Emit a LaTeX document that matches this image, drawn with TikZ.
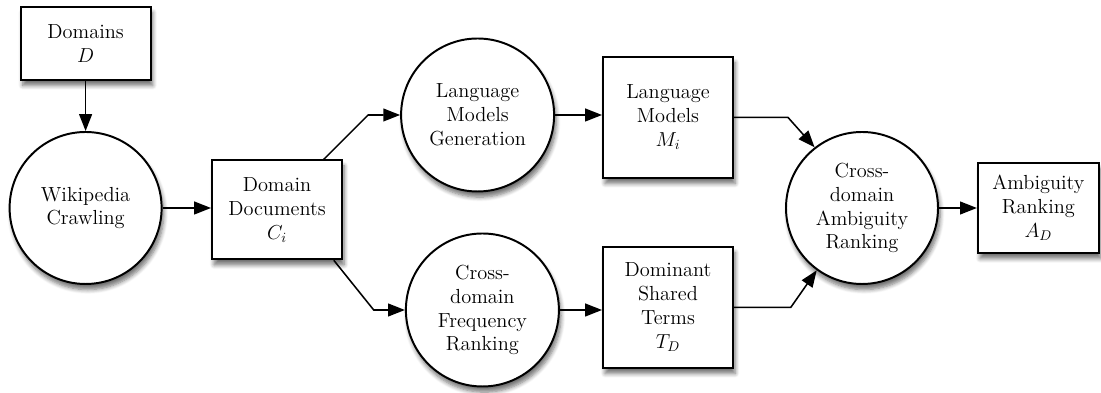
\documentclass[tikz,border=0pt]{standalone}
\usepackage{fontspec}
\usepackage{tikz}
\usetikzlibrary{arrows.meta, positioning, calc, shadows.blur}
\tikzset{
  soft/.style={blur shadow={shadow xshift=1.5pt, shadow yshift=-4pt, shadow blur steps=6, shadow blur radius=3pt, shadow opacity=55}},
  proc/.style={circle, draw=black, fill=white, line width=1.4pt, align=center,
               minimum size=3.8cm, inner sep=0pt, font=\fontsize{14.5}{17}\selectfont, soft},
  data/.style={rectangle, draw=black, fill=white, line width=1.4pt, align=center,
               minimum width=3.25cm, inner sep=2pt, font=\fontsize{14.5}{17}\selectfont, soft},
  arr/.style={-{Triangle[length=0.42cm,width=0.32cm]}, line width=1.1pt},
}

\begin{document}
\begin{tikzpicture}[x=1cm, y=1cm]
\useasboundingbox (0,0) rectangle (27.525,9.825);
% inputs and crawling
\node[data, minimum height=1.825cm] (dom) at (2.14,8.74) {Domains\\$D$};
\node[proc] (wiki) at (2.14,4.625) {Wikipedia\\Crawling};
\node[data, minimum height=2.475cm] (docs) at (6.925,4.58) {Domain\\Documents\\$C_i$};
% the two branches
\node[proc, minimum size=3.825cm] (lmg) at (11.94,6.95) {Language\\Models\\Generation};
\node[proc, minimum size=3.825cm] (cfr) at (12.06,2.075) {Cross-\\domain\\Frequency\\Ranking};
\node[data, minimum height=3.025cm] (lm) at (16.7,6.89) {Language\\Models\\$M_i$};
\node[data, minimum height=3.025cm] (dst) at (16.7,2.14) {Dominant\\Shared\\Terms\\$T_D$};
% final ranking
\node[proc] (car) at (21.55,4.625) {Cross-\\domain\\Ambiguity\\Ranking};
\node[data, minimum width=3.025cm, minimum height=2.25cm] (amb) at (25.96,4.625) {Ambiguity\\Ranking\\$A_D$};
% connectors
\draw[arr] (dom.south) -- (wiki.north);
\draw[arr] (wiki.east) -- (wiki.east -| docs.west);
\draw[arr] ([xshift=-0.48cm]docs.north east) -- ([xshift=-0.8cm]lmg.west) -- (lmg.west);
\draw[arr] ([xshift=-0.23cm]docs.south east) -- ([xshift=-0.78cm]cfr.west) -- (cfr.west);
\draw[arr] (lmg.east) -- (lmg.east -| lm.west);
\draw[arr] (cfr.east) -- (cfr.east -| dst.west);
\draw[arr] (lm.east) -- ++(1.35,0) -- (car.128);
\draw[arr] (dst.east) -- ++(1.42,0) -- (car.234);
\draw[arr] (car.east) -- (amb.west);
\end{tikzpicture}
\end{document}
